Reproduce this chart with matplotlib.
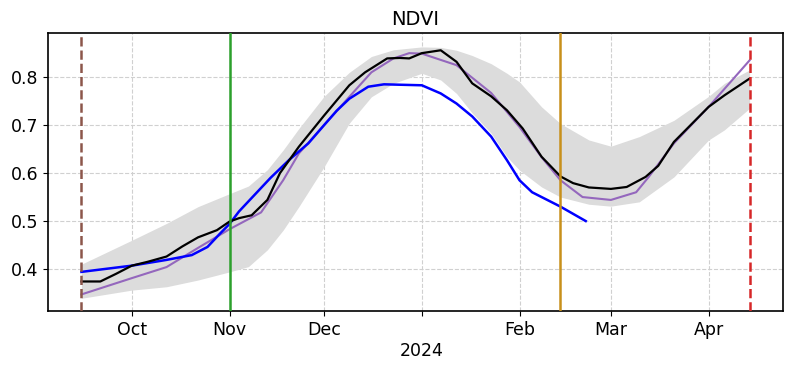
import matplotlib
matplotlib.use("Agg")
import matplotlib.pyplot as plt
import pandas as pd

# Envelope (grey band)
band_dates = ["2023-09-15", "2023-10-01", "2023-10-12", "2023-10-22", "2023-11-01",
              "2023-11-07", "2023-11-13", "2023-11-18", "2023-11-23", "2023-12-01",
              "2023-12-09", "2023-12-16", "2023-12-23", "2024-01-01", "2024-01-07",
              "2024-01-12", "2024-01-17", "2024-01-23", "2024-01-28", "2024-02-01",
              "2024-02-08", "2024-02-14", "2024-02-23", "2024-03-01", "2024-03-10",
              "2024-03-21", "2024-04-01", "2024-04-06", "2024-04-14"]
band_upper = [0.410, 0.460, 0.495, 0.530, 0.557, 0.573, 0.607, 0.648, 0.693, 0.760,
              0.810, 0.843, 0.857, 0.863, 0.862, 0.856, 0.845, 0.828, 0.808, 0.790,
              0.738, 0.703, 0.669, 0.656, 0.676, 0.710, 0.760, 0.787, 0.815]
band_lower = [0.339, 0.356, 0.363, 0.377, 0.394, 0.405, 0.440, 0.481, 0.530, 0.613,
              0.704, 0.759, 0.787, 0.808, 0.794, 0.766, 0.725, 0.683, 0.634, 0.606,
              0.571, 0.550, 0.535, 0.531, 0.540, 0.592, 0.669, 0.690, 0.735]

# Purple curve
purple_dates = ["2023-09-15", "2023-10-01", "2023-10-12", "2023-10-22", "2023-11-01",
                "2023-11-11", "2023-11-18", "2023-11-23", "2023-12-01", "2023-12-09",
                "2023-12-16", "2023-12-23", "2023-12-28", "2024-01-01", "2024-01-12",
                "2024-01-23", "2024-02-01", "2024-02-08", "2024-02-14", "2024-02-21",
                "2024-03-01", "2024-03-09", "2024-03-13", "2024-03-21", "2024-04-01",
                "2024-04-14"]
purple_vals = [0.347, 0.381, 0.404, 0.444, 0.483, 0.518, 0.585, 0.641, 0.700, 0.759,
               0.810, 0.839, 0.850, 0.849, 0.825, 0.767, 0.696, 0.633, 0.585, 0.550,
               0.544, 0.560, 0.592, 0.662, 0.738, 0.835]

# Black curve
black_dates = ["2023-09-15", "2023-09-21", "2023-09-26", "2023-10-01", "2023-10-06",
               "2023-10-12", "2023-10-17", "2023-10-22", "2023-10-28", "2023-11-01",
               "2023-11-04", "2023-11-08", "2023-11-13", "2023-11-17", "2023-11-23",
               "2023-12-01", "2023-12-09", "2023-12-14", "2023-12-21", "2023-12-25",
               "2023-12-28", "2024-01-01", "2024-01-07", "2024-01-12", "2024-01-17",
               "2024-01-23", "2024-01-28", "2024-02-02", "2024-02-08", "2024-02-14",
               "2024-02-18", "2024-02-23", "2024-03-01", "2024-03-06", "2024-03-12",
               "2024-03-16", "2024-03-21", "2024-04-01", "2024-04-06", "2024-04-14"]
black_vals = [0.374, 0.374, 0.390, 0.407, 0.415, 0.426, 0.447, 0.466, 0.481, 0.499,
              0.506, 0.512, 0.544, 0.600, 0.655, 0.720, 0.783, 0.810, 0.839, 0.840,
              0.839, 0.850, 0.856, 0.832, 0.787, 0.760, 0.731, 0.693, 0.634, 0.593,
              0.579, 0.570, 0.567, 0.571, 0.592, 0.615, 0.665, 0.738, 0.762, 0.797]

# Blue curve
blue_dates = ["2023-09-15", "2023-10-01", "2023-10-12", "2023-10-20", "2023-10-25",
              "2023-10-29", "2023-11-01", "2023-11-04", "2023-11-08", "2023-11-14",
              "2023-11-20", "2023-11-26", "2023-12-01", "2023-12-05", "2023-12-09",
              "2023-12-15", "2023-12-20", "2024-01-01", "2024-01-07", "2024-01-12",
              "2024-01-17", "2024-01-23", "2024-01-28", "2024-02-01", "2024-02-05",
              "2024-02-14", "2024-02-22"]
blue_vals = [0.394, 0.407, 0.419, 0.429, 0.446, 0.474, 0.494, 0.520, 0.548, 0.590,
             0.628, 0.662, 0.700, 0.730, 0.755, 0.780, 0.785, 0.783, 0.766, 0.745,
             0.718, 0.676, 0.627, 0.585, 0.560, 0.530, 0.500]

start_line = "2023-09-15"
green_line = "2023-11-01"
orange_line = "2024-02-14"
end_line = "2024-04-14"

tick_dates = ["2023-10-01", "2023-11-01", "2023-12-01", "2024-01-01",
              "2024-02-01", "2024-03-01", "2024-04-01"]
tick_labels = ["Oct", "Nov", "Dec", "\n2024", "Feb", "Mar", "Apr"]
yticks = [0.4, 0.5, 0.6, 0.7, 0.8]

td = pd.to_datetime

fig = plt.figure(figsize=(7.91, 3.65), dpi=100)
ax = fig.add_axes([0.0607, 0.148, 0.9292, 0.7616])

ax.fill_between(td(band_dates), band_lower, band_upper, color="#dcdcdc", linewidth=0, zorder=1)
ax.plot(td(purple_dates), purple_vals, color="#9467bd", lw=1.5, zorder=3)
ax.plot(td(blue_dates), blue_vals, color="blue", lw=1.8, zorder=4)
ax.plot(td(black_dates), black_vals, color="black", lw=1.6, zorder=5)

ax.axvline(td(start_line), color="#8c564b", ls="--", lw=1.8, zorder=6)
ax.axvline(td(green_line), color="#2ca02c", ls="-", lw=1.8, zorder=6)
ax.axvline(td(orange_line), color="#c8901a", ls="-", lw=1.8, zorder=6)
ax.axvline(td(end_line), color="#d62728", ls="--", lw=1.8, zorder=6)

ax.set_xticks(td(tick_dates))
ax.set_xticklabels(tick_labels, fontsize=12.5)
ax.set_yticks(yticks)
ax.set_yticklabels([f"{v:.1f}" for v in yticks], fontsize=12.5)
ax.set_ylim(0.3125, 0.892)
ax.margins(x=0.05)
ax.grid(True, ls="--", color="#d0d0d0", lw=0.8)
ax.set_axisbelow(True)
ax.set_title("NDVI", fontsize=14)
for s in ax.spines.values():
    s.set_linewidth(1.2)

fig.savefig("out.png", dpi=100)
